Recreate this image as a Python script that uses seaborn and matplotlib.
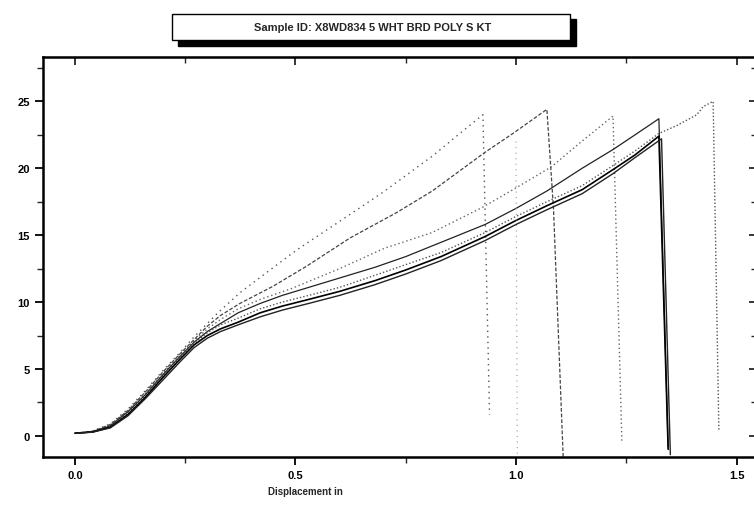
import numpy as np
import pandas as pd
import seaborn as sns
import matplotlib.pyplot as plt
from matplotlib.patches import Rectangle

# Load vs displacement, one list pair per specimen
x_a = [0.0, 0.04, 0.08, 0.12, 0.16, 0.20, 0.24, 0.27, 0.30, 0.324, 0.374, 0.426, 0.503, 0.585, 0.698, 0.81, 0.88, 0.925, 0.94]
y_a = [0.2, 0.35, 0.9, 2.0, 3.4, 4.9, 6.3, 7.4, 8.4, 9.2, 10.7, 12.0, 13.9, 15.7, 18.2, 20.9, 22.8, 24.0, 1.6]

x_b = [0.0, 0.04, 0.08, 0.12, 0.16, 0.20, 0.24, 0.27, 0.30, 0.33, 0.374, 0.45, 0.526, 0.624, 0.73, 0.81, 0.93, 0.993, 1.07, 1.085, 1.107]
y_b = [0.2, 0.35, 0.85, 1.9, 3.3, 4.8, 6.2, 7.2, 8.2, 9.0, 9.9, 11.2, 12.7, 14.8, 16.7, 18.3, 21.2, 22.6, 24.4, 17.0, -1.6]

x_c = [0.0, 0.04, 0.08, 0.12, 0.16, 0.20, 0.24, 0.27, 0.30, 0.33, 0.37, 0.42, 0.49, 0.60, 0.70, 0.81, 0.925, 0.993, 1.08, 1.145, 1.22, 1.24]
y_c = [0.2, 0.3, 0.8, 1.9, 3.2, 4.7, 6.1, 7.1, 8.0, 8.7, 9.5, 10.2, 11.0, 12.5, 14.0, 15.2, 17.1, 18.4, 20.1, 21.9, 23.9, -0.4]

x_d = [0.0, 0.04, 0.08, 0.12, 0.16, 0.20, 0.24, 0.27, 0.30, 0.33, 0.37, 0.42, 0.47, 0.53, 0.60, 0.68, 0.75, 0.81, 0.93, 1.00, 1.07, 1.15, 1.22, 1.27, 1.324, 1.345]
y_d = [0.2, 0.3, 0.75, 1.8, 3.1, 4.6, 6.0, 7.0, 7.8, 8.4, 9.2, 9.9, 10.5, 11.1, 11.8, 12.6, 13.4, 14.2, 15.8, 17.0, 18.3, 20.0, 21.4, 22.5, 23.7, -0.8]

x_e = [0.0, 0.04, 0.08, 0.12, 0.16, 0.20, 0.24, 0.27, 0.30, 0.33, 0.37, 0.42, 0.47, 0.53, 0.60, 0.68, 0.75, 0.83, 0.93, 1.00, 1.07, 1.15, 1.22, 1.27, 1.324, 1.365, 1.41, 1.424, 1.447, 1.46]
y_e = [0.2, 0.3, 0.7, 1.7, 3.0, 4.5, 5.9, 6.9, 7.7, 8.3, 8.8, 9.5, 10.0, 10.5, 11.1, 12.0, 12.8, 13.7, 15.2, 16.4, 17.5, 18.7, 20.2, 21.3, 22.6, 23.2, 24.0, 24.6, 25.0, 0.4]

x_f = [0.0, 0.04, 0.08, 0.12, 0.16, 0.20, 0.24, 0.27, 0.30, 0.33, 0.37, 0.42, 0.47, 0.53, 0.60, 0.68, 0.75, 0.83, 0.93, 1.00, 1.07, 1.15, 1.22, 1.27, 1.324, 1.345]
y_f = [0.2, 0.3, 0.65, 1.6, 2.9, 4.4, 5.8, 6.8, 7.5, 8.0, 8.5, 9.2, 9.7, 10.2, 10.8, 11.6, 12.4, 13.4, 14.9, 16.1, 17.2, 18.4, 19.9, 21.0, 22.4, -1.0]

x_g = [0.0, 0.04, 0.08, 0.12, 0.16, 0.20, 0.24, 0.27, 0.30, 0.33, 0.37, 0.42, 0.47, 0.53, 0.60, 0.68, 0.75, 0.83, 0.93, 1.00, 1.07, 1.15, 1.22, 1.27, 1.33, 1.35]
y_g = [0.2, 0.28, 0.6, 1.5, 2.8, 4.2, 5.6, 6.6, 7.3, 7.8, 8.3, 8.9, 9.4, 9.9, 10.5, 11.3, 12.1, 13.1, 14.6, 15.8, 16.9, 18.1, 19.6, 20.8, 22.2, -1.4]

# faint dotted drop near 1.0
x_h = [1.0, 1.003]
y_h = [22.0, -1.6]

curves = {
    'A': (x_a, y_a), 'B': (x_b, y_b), 'C': (x_c, y_c), 'D': (x_d, y_d),
    'E': (x_e, y_e), 'F': (x_f, y_f), 'G': (x_g, y_g), 'H': (x_h, y_h),
}
styles = {
    'A': ('#555555', (0, (1, 3)), 1.0),
    'B': ('#444444', (0, (3, 1.5)), 0.9),
    'C': ('#666666', (0, (1, 2)), 1.0),
    'D': ('#222222', '-', 0.9),
    'E': ('#555555', (0, (1, 1.5)), 1.0),
    'F': ('#000000', '-', 1.2),
    'G': ('#222222', '-', 1.0),
    'H': ('#999999', (0, (1, 4)), 0.8),
}

rows = []
for name, (xs, ys) in curves.items():
    for i, (xv, yv) in enumerate(zip(xs, ys)):
        rows.append({'spec': name, 'order': i, 'disp': xv, 'load': yv})
df = pd.DataFrame(rows)

sns.set_style('ticks')
plt.rcParams['font.family'] = ['Liberation Sans Narrow', 'Liberation Sans', 'DejaVu Sans']

fig = plt.figure(figsize=(7.54, 5.06), dpi=100)
ax = fig.add_axes([0.057, 0.095, 0.947, 0.79])

for name in curves:
    col, ls, lw = styles[name]
    sns.lineplot(data=df[df['spec'] == name], x='disp', y='load', sort=False,
                 estimator=None, color=col, linestyle=ls, linewidth=lw, ax=ax)

xmaj = [0.0, 0.5, 1.0, 1.5]
xmin = [0.25, 0.75, 1.25]
ymaj = [0, 5, 10, 15, 20, 25]
ymin = [2.5, 7.5, 12.5, 17.5, 22.5, 27.5]

ax.set_xlim(-0.0726, 1.5465)
ax.set_ylim(-1.57, 28.3)
ax.set_xticks(xmaj)
ax.set_xticklabels(['0.0', '0.5', '1.0', '1.5'])
ax.set_xticks(xmin, minor=True)
ax.set_yticks(ymaj)
ax.set_yticks(ymin, minor=True)
ax.tick_params(axis='both', which='major', length=6, width=1.3, labelsize=8,
               colors='black', direction='out')
ax.tick_params(axis='both', which='minor', length=4, width=1.0, direction='out')
for lab in ax.get_xticklabels() + ax.get_yticklabels():
    lab.set_fontweight('bold')
for sp in ax.spines.values():
    sp.set_linewidth(1.8)
    sp.set_color('black')
ax.set_xlabel('')
ax.set_ylabel('')

# inward ticks on top and right
top = ax.secondary_xaxis('top')
top.set_xticks(xmaj, labels=[])
top.set_xticks(xmin, minor=True)
top.tick_params(which='major', direction='in', length=6, width=1.3)
top.tick_params(which='minor', direction='in', length=4, width=1.0)
right = ax.secondary_yaxis('right')
right.set_yticks(ymaj, labels=[])
right.set_yticks(ymin, minor=True)
right.tick_params(which='major', direction='in', length=6, width=1.3)
right.tick_params(which='minor', direction='in', length=4, width=1.0)

fig.text(0.405, 0.028, 'Displacement in', ha='center', va='center', fontsize=7, fontweight='bold')

# title box with drop shadow
fig.patches.append(Rectangle((0.236, 0.908), 0.528, 0.053, transform=fig.transFigure,
                             facecolor='black', edgecolor='black', zorder=1))
fig.patches.append(Rectangle((0.228, 0.918), 0.528, 0.053, transform=fig.transFigure,
                             facecolor='white', edgecolor='black', linewidth=1.0, zorder=2))
fig.text(0.494, 0.945, 'Sample ID: X8WD834 5 WHT BRD POLY S KT', ha='center', va='center',
         fontsize=8, fontweight='bold', zorder=3)

fig.savefig('out.png', dpi=100)
